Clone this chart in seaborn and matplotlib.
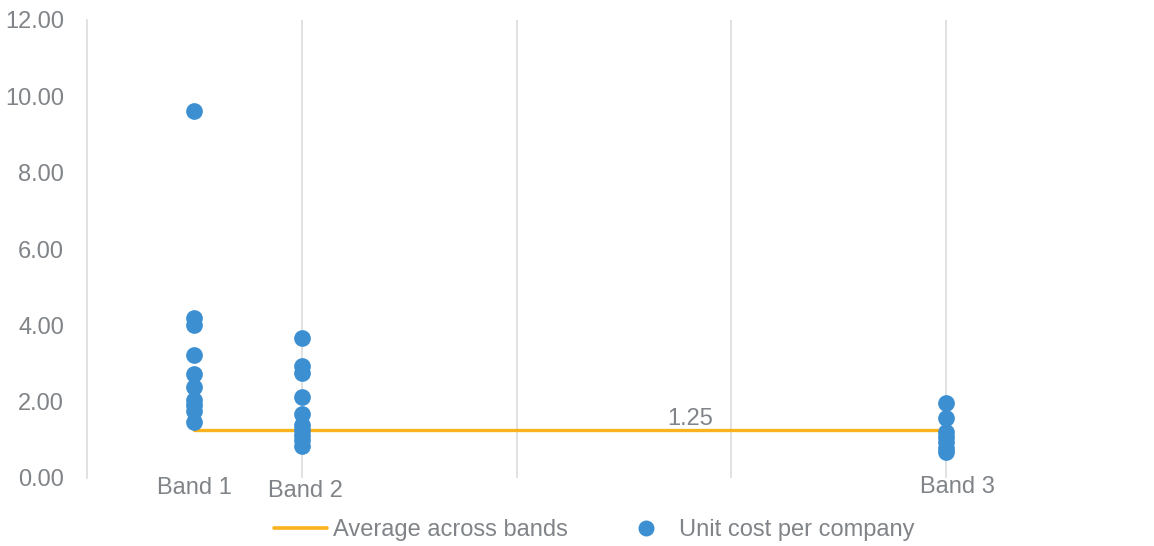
import matplotlib
matplotlib.use("Agg")
import matplotlib.pyplot as plt
import seaborn as sns
import pandas as pd
from matplotlib.lines import Line2D

# ---- data ----
band_names = ["Band 1", "Band 2", "Band 3"]
band_x = [0.5, 1.0, 4.0]
band1_costs = [9.61, 4.19, 4.01, 3.21, 2.72, 2.38, 2.05, 1.91, 1.76, 1.46]
band2_costs = [3.66, 2.94, 2.74, 2.12, 1.67, 1.39, 1.26, 1.13, 1.00, 0.84]
band3_costs = [1.96, 1.58, 1.21, 1.08, 0.95, 0.78, 0.69]
average_value = 1.25
y_ticks = [0, 2, 4, 6, 8, 10, 12]

sns.set_theme(style="white")
plt.rcParams["font.family"] = ["Liberation Sans", "DejaVu Sans"]

rows = []
for name, bx, vals in zip(band_names, band_x, [band1_costs, band2_costs, band3_costs]):
    for v in vals:
        rows.append({"band": name, "x": bx, "cost": v})
df = pd.DataFrame(rows)
avg_df = pd.DataFrame({"x": [band_x[0], band_x[-1]], "y": [average_value, average_value]})

BLUE = "#3C8FD1"
YELLOW = "#FBB21F"
TEXT = "#808488"
GRID = "#DEDEDE"
FS = 17

fig = plt.figure(figsize=(11.54, 5.46), dpi=100)
ax = fig.add_axes([87 / 1154, 1 - 478 / 546, (1150 - 87) / 1154, (478 - 20) / 546])

sns.lineplot(data=avg_df, x="x", y="y", ax=ax, color=YELLOW, linewidth=2.4, zorder=2)
sns.scatterplot(data=df, x="x", y="cost", ax=ax, color=BLUE, s=145, linewidth=0,
                zorder=3)

ax.set_xlim(0, (1150 - 87) / 214.75)
ax.set_ylim(0, 12)
ax.set_yticks(y_ticks)
ax.set_yticklabels([f"{t:.2f}" for t in y_ticks], color=TEXT, fontsize=FS)
ax.set_xticks([])
ax.tick_params(axis="y", length=0, pad=16.5)
ax.set_xlabel("")
ax.set_ylabel("")
for gx in [1, 2, 3, 4]:
    ax.axvline(gx, color=GRID, linewidth=1.3, zorder=0)
for s in ["top", "right", "bottom"]:
    ax.spines[s].set_visible(False)
ax.spines["left"].set_color(GRID)
ax.spines["left"].set_linewidth(1.3)

# band labels
offsets = [(0, -10), (4, -13), (11, -9)]
for name, bx, (dx, dy) in zip(band_names, band_x, offsets):
    ax.annotate(name, xy=(bx, 0), xytext=(dx * 0.72, dy * 0.72), textcoords="offset points",
                ha="center", va="center", color=TEXT, fontsize=FS, annotation_clip=False)

# average label
ax.annotate(f"{average_value:.2f}", xy=(2.81, average_value), xytext=(0, 11 * 0.72),
            textcoords="offset points", ha="center", va="center", color=TEXT, fontsize=FS)

handles = [
    Line2D([0], [0], color=YELLOW, linewidth=2.6),
    Line2D([0], [0], marker="o", color="none", markerfacecolor=BLUE, markeredgewidth=0,
           markersize=11.5),
]
leg = fig.legend(handles, ["Average across bands", "Unit cost per company"],
                 loc="center", bbox_to_anchor=(594 / 1154, 1 - 530 / 546), ncol=2,
                 frameon=False, fontsize=FS, handlelength=2.25, handletextpad=0.25,
                 columnspacing=2.2)
for t in leg.get_texts():
    t.set_color(TEXT)

fig.savefig("out.png", dpi=100)
